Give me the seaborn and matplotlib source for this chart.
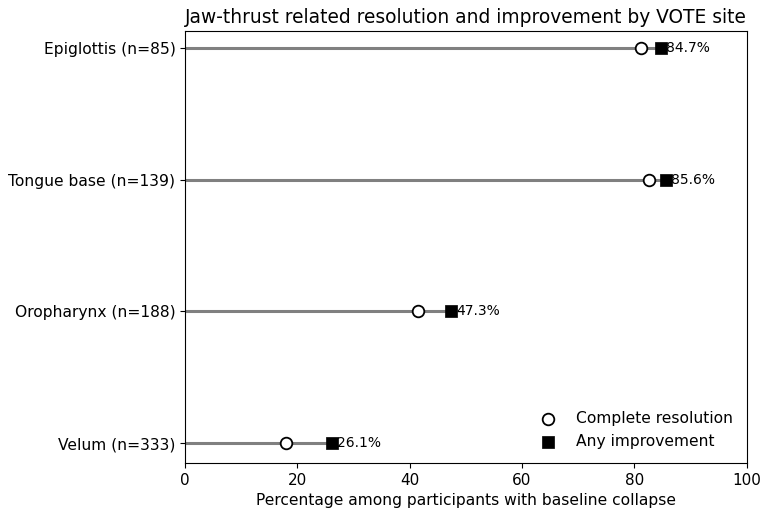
import pandas as pd
import matplotlib
matplotlib.use("Agg")
import matplotlib.pyplot as plt
import seaborn as sns

# data
sites = ["Velum (n=333)", "Oropharynx (n=188)", "Tongue base (n=139)", "Epiglottis (n=85)"]
complete_resolution = [18.0, 41.5, 82.7, 81.2]
any_improvement = [26.1, 47.3, 85.6, 84.7]

sns.set_style("ticks")
plt.rcParams['font.family'] = ['DejaVu Sans']
plt.rcParams['axes.edgecolor'] = 'black'
plt.rcParams['xtick.color'] = 'black'
plt.rcParams['ytick.color'] = 'black'
plt.rcParams['text.color'] = 'black'
plt.rcParams['axes.labelcolor'] = 'black'

df = pd.DataFrame({
    'Site': sites,
    'Complete': complete_resolution,
    'Any': any_improvement,
})
df['pos'] = range(len(df))

fig = plt.figure(figsize=(7.65, 5.16), dpi=100)
ax = fig.add_axes([0.242, 0.103, 0.734, 0.837])

# grey bar lines from 0 to "any improvement"
ax.hlines(df['pos'], 0, df['Any'], color='#808080', linewidth=2.2, zorder=1)

sns.scatterplot(data=df, x='Complete', y='pos', marker='o', s=70,
                facecolor='white', edgecolor='black', linewidth=1.3,
                label='Complete resolution', zorder=3, ax=ax)
sns.scatterplot(data=df, x='Any', y='pos', marker='s', s=80,
                color='black', edgecolor='black', linewidth=0.5,
                label='Any improvement', zorder=3, ax=ax)

for _, row in df.iterrows():
    ax.text(row['Any'] + 1.0, row['pos'], f"{row['Any']:.1f}%",
            va='center', ha='left', fontsize=10)

ax.set_xlim(0, 100)
ax.set_ylim(-0.15, 3.13)
ax.set_yticks(df['pos'])
ax.set_yticklabels(df['Site'], fontsize=11.2)
ax.tick_params(axis='x', labelsize=11)
ax.set_xlabel("Percentage among participants with baseline collapse", fontsize=11.2)
ax.set_ylabel("")
ax.set_title("Jaw-thrust related resolution and improvement by VOTE site", fontsize=13.4)
ax.legend(loc='lower right', frameon=False, fontsize=11.2)
for sp in ax.spines.values():
    sp.set_visible(True)

fig.savefig("out.png", dpi=100)
